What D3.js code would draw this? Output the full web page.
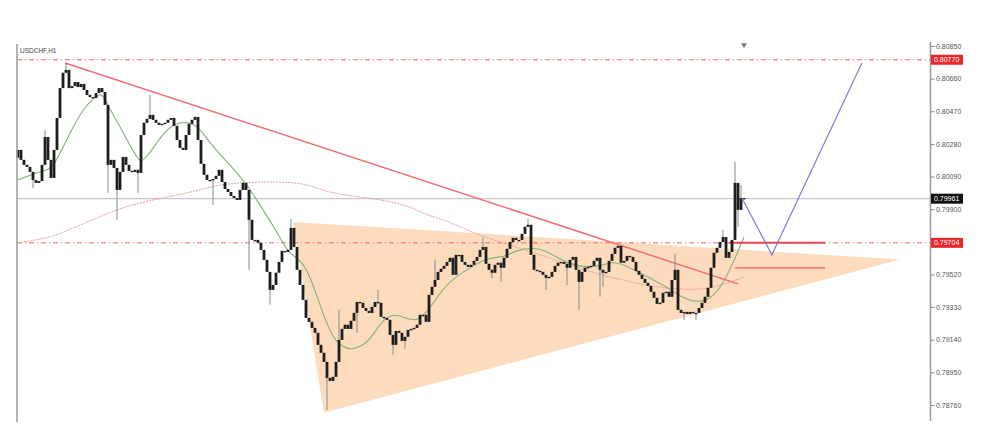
<!DOCTYPE html>
<html><head><meta charset="utf-8">
<script src="https://cdn.jsdelivr.net/npm/d3@7"></script>
<style>body{margin:0;background:#fff;}svg{display:block;font-family:"Liberation Sans",Arial,sans-serif;}</style>
</head><body><svg id="c" width="1000" height="437"></svg>
<script>
// ---------- data ----------
const symbol = "USDCHF,H1";
const firstOpen = 0.80200;
const closes = [
0.80245,0.80187,0.80158,0.80146,0.80117,0.80070,0.80053,0.80064,0.80158,0.80320,
0.80187,0.80082,0.80245,0.80431,0.80605,0.80694,0.80711,0.80605,0.80617,0.80640,
0.80611,0.80629,0.80594,0.80565,0.80553,0.80547,0.80576,0.80605,0.80582,0.80507,
0.80158,0.80187,0.80140,0.80012,0.80117,0.80204,0.80158,0.80123,0.80117,0.80129,
0.80111,0.80332,0.80403,0.80426,0.80449,0.80420,0.80403,0.80391,0.80397,0.80403,
0.80420,0.80431,0.80385,0.80303,0.80257,0.80245,0.80332,0.80397,0.80420,0.80437,
0.80303,0.80164,0.80100,0.80070,0.80070,0.80076,0.80094,0.80129,0.80058,0.80018,
0.80000,0.79977,0.79965,0.79954,0.80012,0.80053,0.80012,0.79838,0.79721,0.79721,
0.79704,0.79663,0.79605,0.79535,0.79430,0.79459,0.79530,0.79593,0.79657,0.79651,
0.79663,0.79791,0.79680,0.79547,0.79459,0.79372,0.79267,0.79244,0.79209,0.79180,
0.79110,0.79064,0.79011,0.78918,0.78900,0.78924,0.79011,0.79139,0.79203,0.79227,
0.79203,0.79250,0.79296,0.79360,0.79355,0.79325,0.79308,0.79296,0.79331,0.79360,
0.79355,0.79273,0.79267,0.79256,0.79168,0.79110,0.79191,0.79180,0.79133,0.79157,
0.79197,0.79203,0.79209,0.79227,0.79285,0.79285,0.79244,0.79401,0.79448,0.79488,
0.79535,0.79553,0.79570,0.79593,0.79617,0.79518,0.79634,0.79634,0.79593,0.79576,
0.79564,0.79576,0.79599,0.79622,0.79663,0.79680,0.79582,0.79547,0.79530,0.79576,
0.79588,0.79559,0.79617,0.79669,0.79709,0.79733,0.79721,0.79721,0.79756,0.79797,
0.79809,0.79634,0.79547,0.79541,0.79535,0.79518,0.79500,0.79506,0.79535,0.79570,
0.79588,0.79593,0.79582,0.79559,0.79605,0.79622,0.79547,0.79477,0.79535,0.79559,
0.79564,0.79570,0.79599,0.79617,0.79547,0.79530,0.79535,0.79599,0.79640,0.79675,
0.79686,0.79588,0.79599,0.79628,0.79622,0.79593,0.79541,0.79518,0.79494,0.79471,
0.79453,0.79419,0.79384,0.79349,0.79355,0.79413,0.79419,0.79390,0.79488,0.79547,
0.79314,0.79296,0.79302,0.79290,0.79302,0.79296,0.79296,0.79325,0.79355,0.79390,
0.79442,0.79559,0.79646,0.79675,0.79709,0.79738,0.79617,0.79651,0.79721,0.80053,
0.79896,0.79965,0.79961
];
// visible upper / lower wicks [bar index, price]
const highs = [[9,0.80361],[16,0.80751],[44,0.80565],[91,0.79844],[107,0.79314],[120,0.79430],[139,0.79605],[155,0.79733],[170,0.79844],[219,0.79640],[235,0.79779],[239,0.80175],[241,0.80041]];
const lows = [[5,0.80023],[30,0.79995],[33,0.79838],[40,0.79995],[65,0.79925],[77,0.79547],[84,0.79344],[103,0.78732],[113,0.79180],[125,0.79052],[129,0.79087],[158,0.79500],[161,0.79477],[176,0.79430],[183,0.79459],[187,0.79314],[194,0.79390],[195,0.79448],[222,0.79256],[226,0.79256],[240,0.79797]];
// moving averages read at sample bars [bar index, price]
const maFast = [[0,0.80070],[6,0.80111],[10,0.80129],[12,0.80152],[17,0.80332],[21,0.80466],[25,0.80547],[28,0.80582],[30,0.80501],[35,0.80350],[39,0.80216],[41,0.80170],[43,0.80204],[48,0.80332],[52,0.80403],[57,0.80408],[60,0.80379],[62,0.80332],[66,0.80245],[70,0.80170],[76,0.80053],[81,0.79914],[86,0.79779],[90,0.79646],[93,0.79617],[96,0.79564],[99,0.79430],[102,0.79273],[105,0.79151],[108,0.79099],[111,0.79081],[115,0.79104],[118,0.79157],[122,0.79267],[126,0.79290],[129,0.79267],[133,0.79244],[137,0.79314],[142,0.79448],[146,0.79506],[151,0.79564],[157,0.79622],[162,0.79617],[166,0.79663],[172,0.79675],[175,0.79663],[180,0.79617],[186,0.79564],[194,0.79564],[198,0.79599],[203,0.79570],[207,0.79530],[212,0.79488],[216,0.79448],[221,0.79390],[225,0.79360],[230,0.79366],[234,0.79436],[238,0.79570],[242,0.79738]];
const maSlow = [[0,0.79704],[6,0.79721],[11,0.79738],[17,0.79779],[27,0.79855],[37,0.79925],[50,0.79972],[61,0.80012],[66,0.80041],[77,0.80059],[91,0.80059],[97,0.80041],[103,0.80000],[111,0.79977],[122,0.79954],[131,0.79914],[136,0.79867],[144,0.79826],[155,0.79738],[164,0.79692],[174,0.79634],[181,0.79593],[191,0.79535],[197,0.79506],[207,0.79465],[217,0.79436],[227,0.79430],[234,0.79453],[242,0.79506]];
const tickValues = [0.80850,0.80660,0.80470,0.80280,0.80090,0.79900,0.79520,0.79330,0.79140,0.78950,0.78760];
const resistanceLevel = 0.80770;
const supportLevel = 0.79704;
const bidPrice = 0.79961;
const trendLine = [[15.7,0.80751],[240,0.79465]];
const triangle = [[91.7,0.79826],[102,0.78715],[294,0.79607]];
const projection = [[241.3,0.79965],[251.3,0.79634],[281.3,0.80751]];
const supportSegment = [[237,0.79704],[269,0.79704]];
const lowerSegment = [[239,0.79558],[269,0.79558]];

// ---------- scales ----------
const svg = d3.select("#c");
const x = d3.scaleLinear().domain([0, 304]).range([18, 930]);
const y = d3.scaleLinear().domain([0.78760, 0.80850]).range([405, 46]);
const line = d3.line().x(d => x(d[0])).y(d => y(d[1]));

const candles = closes.map((c, i) => {
  const o = i === 0 ? firstOpen : closes[i - 1];
  let h = Math.max(o, c), l = Math.min(o, c);
  const hh = highs.find(d => d[0] === i); if (hh) h = hh[1];
  const ll = lows.find(d => d[0] === i); if (ll) l = ll[1];
  return {i, o, c, h, l};
});

// triangle
svg.append("path").attr("d", line(triangle) + "Z").attr("fill", "#fcdcbc").attr("stroke", "none");

// horizontal levels
const hl = (v, col, dash, w) => svg.append("line").attr("x1", 17).attr("x2", 930)
  .attr("y1", y(v)).attr("y2", y(v)).attr("stroke", col).attr("stroke-width", w || 1)
  .attr("stroke-dasharray", dash || null);
hl(resistanceLevel, "#e8646a", "5,3,1,3");
hl(supportLevel, "#e8646a", "5,3,1,3");
hl(bidPrice, "#b8b8c0", null);

// MAs
svg.append("path").attr("d", line.curve(d3.curveBasis)(maSlow)).attr("fill", "none")
  .attr("stroke", "#ee9a9a").attr("stroke-width", 1).attr("stroke-dasharray", "2,1");
svg.append("path").attr("d", line.curve(d3.curveBasis)(maFast)).attr("fill", "none")
  .attr("stroke", "#84b07a").attr("stroke-width", 1.1);
line.curve(d3.curveLinear);

// trend line & segments
svg.append("path").attr("d", line(trendLine)).attr("stroke", "#ec6e76").attr("stroke-width", 1.5).attr("fill", "none");
svg.append("path").attr("d", line(supportSegment)).attr("stroke", "#e5484f").attr("stroke-width", 2).attr("fill", "none");
svg.append("path").attr("d", line(lowerSegment)).attr("stroke", "#ea5c64").attr("stroke-width", 1.3).attr("fill", "none");

// candles
const g = svg.append("g");
g.selectAll("line.w").data(candles).join("line").attr("class", "w")
  .attr("x1", d => x(d.i)).attr("x2", d => x(d.i))
  .attr("y1", d => y(d.h)).attr("y2", d => y(d.l))
  .attr("stroke", "#8a8a8a").attr("stroke-width", 1);
g.selectAll("rect").data(candles).join("rect")
  .attr("x", d => x(d.i) - 1.4).attr("width", 2.8)
  .attr("y", d => Math.min(y(d.o), y(d.c)))
  .attr("height", d => Math.max(1.4, Math.abs(y(d.o) - y(d.c))))
  .attr("fill", "#1e1e1e");

// projection
svg.append("path").attr("d", line(projection)).attr("stroke", "#7d80d6").attr("stroke-width", 1.2).attr("fill", "none");

// frame lines
svg.append("line").attr("x1", 17).attr("x2", 17).attr("y1", 44).attr("y2", 422).attr("stroke", "#9a9a9a").attr("stroke-width", 1.5);
svg.append("line").attr("x1", 930.5).attr("x2", 930.5).attr("y1", 42).attr("y2", 421).attr("stroke", "#9a9a9a").attr("stroke-width", 1.5);

// axis
const ax = svg.append("g").attr("transform", "translate(930.5,0)")
  .call(d3.axisRight(y).tickValues(tickValues).tickSize(4).tickPadding(1.5).tickFormat(d3.format(".5f")));
ax.select(".domain").remove();
ax.selectAll("line").attr("stroke", "#888");
ax.selectAll("text").attr("font-size", 7).attr("fill", "#555").attr("font-family", "Liberation Sans, Arial, sans-serif");

// price labels
const lab = (v, bg) => {
  svg.append("rect").attr("x", 931).attr("y", y(v) - 5).attr("width", 32).attr("height", 10).attr("fill", bg);
  svg.append("text").attr("x", 934).attr("y", y(v) + 2.5).attr("font-size", 7).attr("fill", "#fff").text(d3.format(".5f")(v));
};
lab(resistanceLevel, "#e8262c");
lab(bidPrice, "#111");
lab(supportLevel, "#e8262c");

// symbol
svg.append("text").attr("x", 20).attr("y", 53).attr("font-size", 6.5).attr("fill", "#444").text(symbol);

// last-bar marker
svg.append("path").attr("d", d3.symbol().type(d3.symbolTriangle).size(14)())
  .attr("transform", `translate(${x(closes.length - 1)},45) rotate(180)`).attr("fill", "#777");
</script></body></html>
